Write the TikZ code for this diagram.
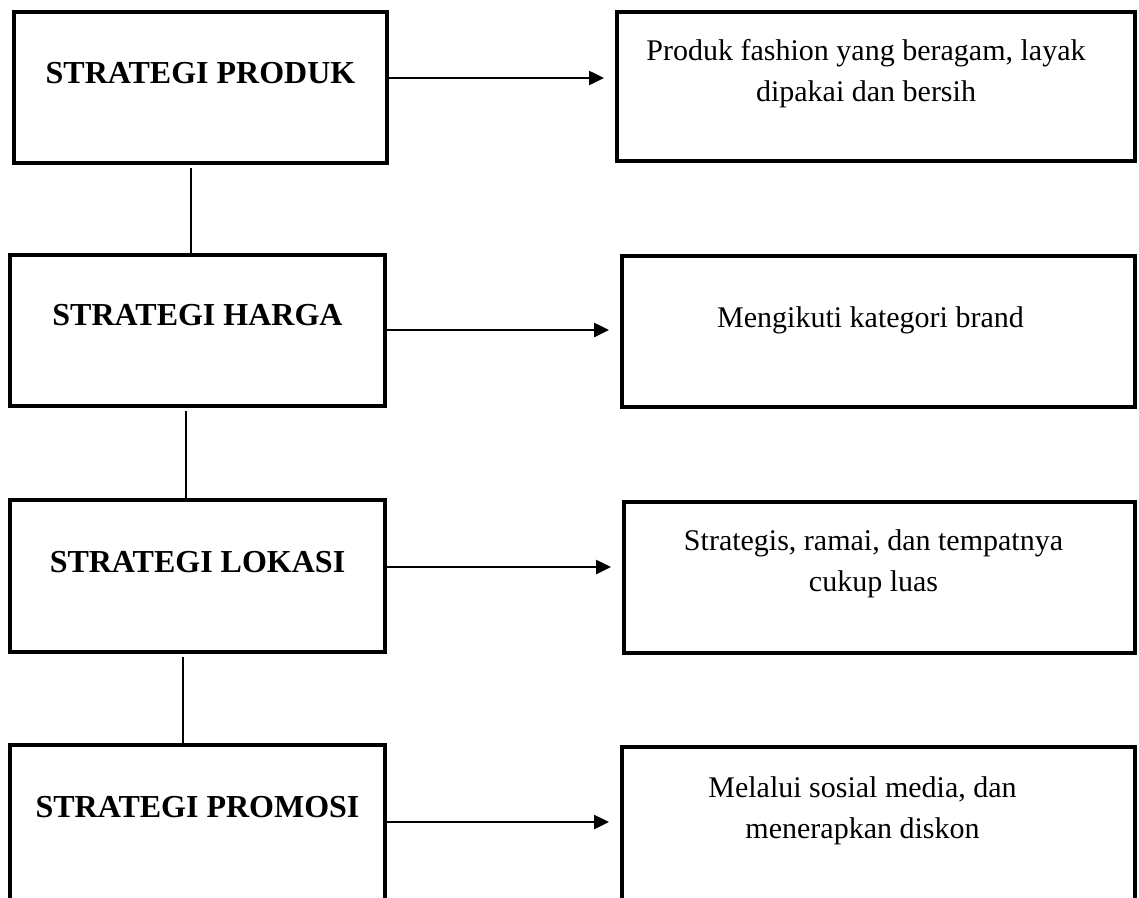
\documentclass[tikz,border=0pt]{standalone}
\usepackage{fontspec}
\setmainfont{Liberation Serif}
\usetikzlibrary{positioning, arrows.meta}
\tikzset{
>={Triangle[length=15pt,width=14pt]},
  kotak/.style={
    rectangle,
    draw=black, line width=4pt,
    inner sep=0pt, outer sep=0pt,
    anchor=north west},
  judul/.style={font=\fontsize{32}{38}\selectfont\bfseries, anchor=base, inner sep=0pt},
  isi/.style={font=\fontsize{30}{41}\selectfont, align=center, anchor=base, inner sep=0pt},
  garis/.style={draw, line width=2pt},
  panah/.style={draw, line width=2.5pt, ->, shorten >=13pt},
}

\begin{document}
\begin{tikzpicture}[x=1pt, y=-1pt]
  \useasboundingbox (0,0) rectangle (1139,897);
  % strategi (kiri)
  \node[kotak, minimum width=373pt, minimum height=151pt] (produk) at (14,12) {};
  \node[kotak, minimum width=375pt, minimum height=151pt] (harga) at (10,255) {};
  \node[kotak, minimum width=375pt, minimum height=152pt] (lokasi) at (10,500) {};
  \node[kotak, minimum width=375pt, minimum height=165pt] (promosi) at (10,745) {};
  % keterangan (kanan)
  \node[kotak, minimum width=518pt, minimum height=149pt] (ketProduk) at (617,12) {};
  \node[kotak, minimum width=513pt, minimum height=151pt] (ketHarga) at (622,256) {};
  \node[kotak, minimum width=511pt, minimum height=151pt] (ketLokasi) at (624,502) {};
  \node[kotak, minimum width=513pt, minimum height=165pt] (ketPromosi) at (622,747) {};

  \node[judul] (judulProduk) at (produk.center |- 0,83) {STRATEGI PRODUK};
  \node[judul] (judulHarga) at (harga.center |- 0,325) {STRATEGI HARGA};
  \node[judul] (judulLokasi) at (lokasi.center |- 0,572) {STRATEGI LOKASI};
  \node[judul] (judulPromosi) at (promosi.center |- 0,817) {STRATEGI PROMOSI};

  % anchor base = baris terakhir
  \node[isi] (teksProduk) at ([xshift=-10pt]ketProduk.center |- 0,101) {Produk fashion yang beragam, layak\\dipakai dan bersih};
  \node[isi] (teksHarga) at ([xshift=-8pt]ketHarga.center |- 0,327) {Mengikuti kategori brand};
  \node[isi] (teksLokasi) at ([xshift=-6pt]ketLokasi.center |- 0,591) {Strategis, ramai, dan tempatnya\\cukup luas};
  \node[isi] (teksPromosi) at ([xshift=-16pt]ketPromosi.center |- 0,838) {Melalui sosial media, dan\\menerapkan diskon};

  % garis penghubung
  \foreach \atas/\bawah/\geser in {produk/harga/-9.5, harga/lokasi/-12, lokasi/promosi/-14.5}{
    \draw[garis] ([xshift=\geser pt, yshift=-5pt]\atas.south) -- ([xshift=\geser pt]\atas.south |- \bawah.north);
  }
  \foreach \kiri/\kanan/\y in {produk/ketProduk/78, harga/ketHarga/330, lokasi/ketLokasi/567, promosi/ketPromosi/822}{
    \draw[panah] (\kiri.east |- 0,\y) -- (\kanan.west |- 0,\y);
  }
\end{tikzpicture}
\end{document}
